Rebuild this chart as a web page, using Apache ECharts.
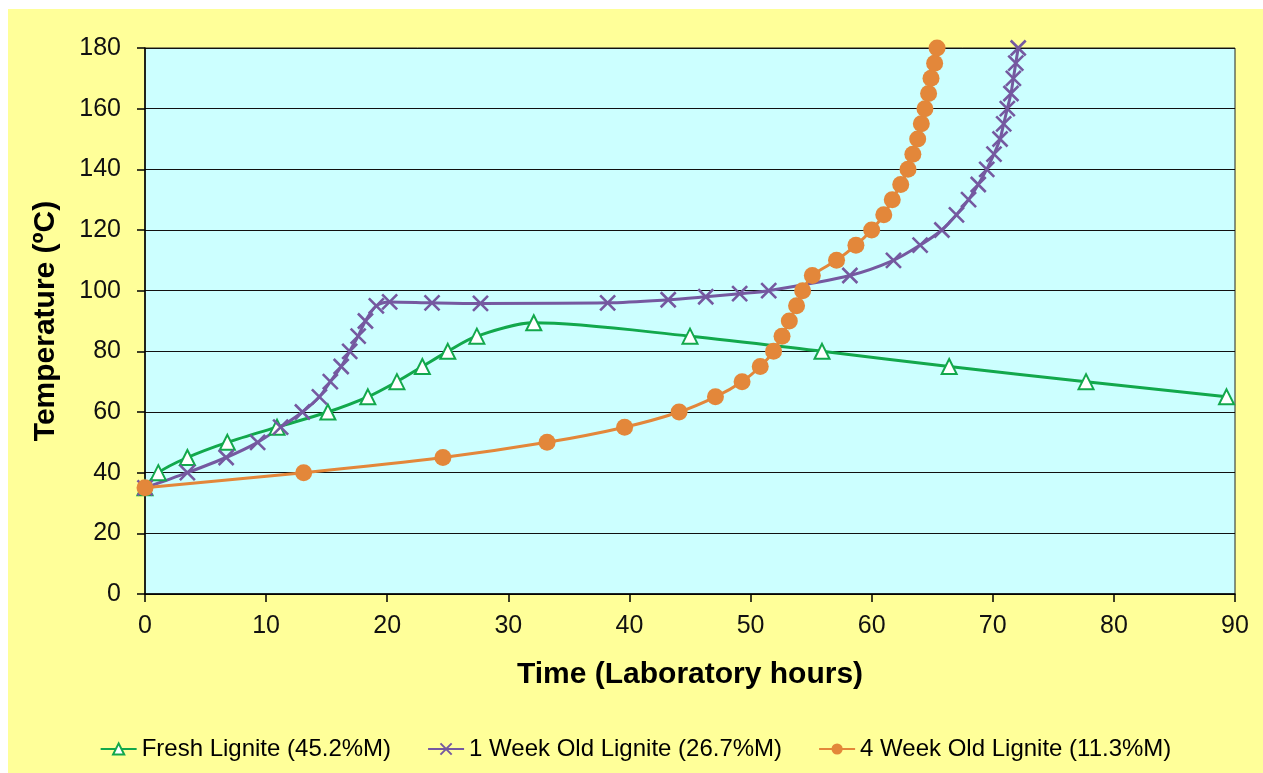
<!DOCTYPE html>
<html>
<head>
<meta charset="utf-8">
<script src="https://cdn.jsdelivr.net/npm/echarts@6/dist/echarts.min.js"></script>
<style>
html,body{margin:0;padding:0;background:#ffffff;}
#chart{position:absolute;left:8px;top:9px;width:1255px;height:764px;}
</style>
</head>
<body>
<div id="chart"></div>
<script>
const seriesNames = ['Fresh Lignite (45.2%M)', '1 Week Old Lignite (26.7%M)', '4 Week Old Lignite (11.3%M)'];

const freshHours = [0, 1.1, 3.5, 6.8, 10.9, 15.1, 18.4, 20.8, 22.9, 25.0, 27.4, 32.1, 45.0, 55.9, 66.4, 77.7, 89.3];
const freshTemp  = [35, 40, 45, 50, 55, 60, 65, 70, 75, 80, 85, 89.4, 85, 80, 75, 70, 65];

const week1Hours = [0, 3.5, 6.7, 9.3, 11.2, 13.0, 14.4, 15.3, 16.2, 16.9, 17.6, 18.2, 19.1, 20.2, 23.7, 27.7, 38.2, 43.2, 46.3, 49.1, 51.5, 58.2, 61.8, 64.0, 65.8, 67.0, 68.0, 68.8, 69.5, 70.1, 70.6, 70.9, 71.2, 71.5, 71.7, 71.9, 72.1];
const week1Temp  = [35, 40, 45, 50, 55, 60, 65, 70, 75, 80, 85, 90, 95, 96.3, 96, 95.8, 96, 97, 98, 99, 100, 105, 110, 115, 120, 125, 130, 135, 140, 145, 150, 155, 160, 165, 170, 175, 180];

const week4Hours = [0, 13.1, 24.6, 33.2, 39.6, 44.1, 47.1, 49.3, 50.8, 51.9, 52.6, 53.2, 53.8, 54.3, 55.1, 57.1, 58.7, 60.0, 61.0, 61.7, 62.4, 63.0, 63.4, 63.8, 64.1, 64.4, 64.7, 64.9, 65.2, 65.4];
const week4Temp  = [35, 40, 45, 50, 55, 60, 65, 70, 75, 80, 85, 90, 95, 100, 105, 110, 115, 120, 125, 130, 135, 140, 145, 150, 155, 160, 165, 170, 175, 180];

const xTicks = [0, 10, 20, 30, 40, 50, 60, 70, 80, 90];
const yTicks = [0, 20, 40, 60, 80, 100, 120, 140, 160, 180];

function zip(xs, ys) { return xs.map((x, i) => [x, ys[i]]); }

const green = '#12A84C', purple = '#7559A0', orange = '#E3873A';
const FONT = '"Liberation Sans", Arial, sans-serif';

const chart = echarts.init(document.getElementById('chart'));
chart.setOption({
  backgroundColor: '#FFFF99',
  animation: false,
  textStyle: { fontFamily: FONT },
  grid: { left: 137, top: 39, right: 28, bottom: 179, show: true, backgroundColor: '#CCFFFF', borderColor: '#222', borderWidth: 1 },
  xAxis: {
    type: 'value', min: 0, max: 90, interval: 10,
    name: 'Time (Laboratory hours)', nameLocation: 'middle', nameGap: 66,
    nameTextStyle: { fontFamily: FONT, fontSize: 30, fontWeight: 'bold', color: '#000' },
    axisLine: { show: true, lineStyle: { color: '#000', width: 1.5 } },
    axisTick: { show: true, length: 8, inside: false, lineStyle: { color: '#000', width: 1.5 } },
    axisLabel: { fontSize: 25, color: '#111', margin: 20, formatter: v => xTicks.includes(v) ? String(v) : '' },
    splitLine: { show: false }
  },
  yAxis: {
    type: 'value', min: 0, max: 180, interval: 20,
    name: 'Temperature (ºC)', nameLocation: 'middle', nameGap: 84, nameRotate: 90,
    nameTextStyle: { fontFamily: FONT, fontSize: 30, fontWeight: 'bold', color: '#000' },
    axisLine: { show: true, lineStyle: { color: '#000', width: 1.5 } },
    axisTick: { show: true, length: 8, lineStyle: { color: '#000', width: 1.5 } },
    axisLabel: { fontSize: 25, color: '#111', margin: 24, formatter: v => yTicks.includes(v) ? String(v) : '' },
    splitLine: { show: true, lineStyle: { color: '#111', width: 1.2 } }
  },
  legend: {
    bottom: 7, left: 'center', itemGap: 36, itemWidth: 36, itemHeight: 14,
    textStyle: { fontFamily: FONT, fontSize: 24, color: '#000' },
    data: seriesNames
  },
  series: [
    {
      name: seriesNames[0], type: 'line', data: zip(freshHours, freshTemp), smooth: 0.3,
      symbol: 'emptyTriangle', symbolSize: 15,
      lineStyle: { color: green, width: 3 },
      itemStyle: { color: green, borderColor: green, borderWidth: 2.4 }
    },
    {
      name: seriesNames[1], type: 'line', data: zip(week1Hours, week1Temp), smooth: 0.3,
      symbol: 'path://M0,0L10,10M10,0L0,10', symbolSize: 15, symbolKeepAspect: true,
      lineStyle: { color: purple, width: 3 },
      itemStyle: { color: purple, borderColor: purple, borderWidth: 2.6 }
    },
    {
      name: seriesNames[2], type: 'line', data: zip(week4Hours, week4Temp), smooth: 0.3,
      symbol: 'circle', symbolSize: 17,
      lineStyle: { color: orange, width: 3 },
      itemStyle: { color: orange, borderWidth: 0 }
    }
  ]
});
</script>
</body>
</html>
